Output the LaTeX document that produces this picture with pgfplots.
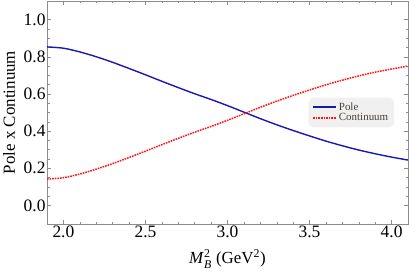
\documentclass[border=0pt]{standalone}
\usepackage{fontspec}
\setmainfont{Liberation Serif}
\usepackage{amsmath}
\usepackage{pgfplots}
\pgfplotsset{compat=1.18}
\definecolor{poleblue}{RGB}{25,25,175}
\definecolor{contred}{RGB}{255,20,20}
\definecolor{framegray}{RGB}{140,140,140}
\definecolor{legtext}{RGB}{75,65,55}
\begin{document}
\begin{tikzpicture}
\useasboundingbox (-47bp,-49bp) rectangle (362bp,224bp);
\begin{axis}[
  at={(0,0)}, anchor=south west,
  scale only axis, width=361bp, height=223bp,
  xmin=1.9, xmax=4.1, ymin=-0.1, ymax=1.1,
  xtick={2.0,2.5,3.0,3.5,4.0},
  ytick={0,0.2,0.4,0.6,0.8,1.0},
  minor x tick num=4, minor y tick num=3,
  tick align=inside,
  major tick length=4bp, minor tick length=2.5bp,
  axis line style={framegray},
  every tick/.style={framegray},
  tick label style={font=\fontsize{17.5}{19}\selectfont},
  /pgf/number format/assume math mode=true,
  /pgf/number format/.cd, fixed, fixed zerofill, precision=1,
  /pgfplots/.cd,
  xticklabel style={yshift=2bp},
  yticklabel style={xshift=2bp},
  xlabel={\textit{M}$^{\text{2}}_{\textit{B}}$ (GeV$^{\text{2}}$)},
  ylabel={Pole x Continuum},
  label style={font=\fontsize{17}{19}\selectfont},
  xlabel style={at={(axis description cs:0.5,0)}, anchor=center, yshift=-35bp},
  ylabel style={at={(axis description cs:0,0.5)}, anchor=center, yshift=38bp},
  legend style={at={(0.843,0.5)}, anchor=center, fill=black!6, draw=none,
    rounded corners=6bp, font=\fontsize{11}{12.5}\selectfont, text=legtext,
    row sep=-2bp, inner xsep=4bp, inner ysep=3bp},
  legend cell align=left,
  legend image code/.code={\draw[#1] (0bp,0bp) -- (23bp,0bp);},
]
\addplot[poleblue, line width=1.4bp, smooth] coordinates {
(1.9,0.853) (2.0,0.846) (2.1,0.826) (2.2,0.800) (2.3,0.770) (2.4,0.737)
(2.5,0.703) (2.6,0.668) (2.7,0.634) (2.8,0.601) (2.9,0.570) (3.0,0.537)
(3.1,0.502) (3.2,0.467) (3.3,0.434) (3.4,0.403) (3.5,0.374) (3.6,0.346)
(3.7,0.321) (3.8,0.298) (3.9,0.278) (4.0,0.260) (4.1,0.244)};
\addlegendentry{Pole}
\addplot[contred, line width=1.5bp, dash pattern=on 1.6bp off 1bp, smooth] coordinates {
(1.9,0.142) (2.0,0.149) (2.1,0.169) (2.2,0.195) (2.3,0.225) (2.4,0.258)
(2.5,0.292) (2.6,0.327) (2.7,0.361) (2.8,0.394) (2.9,0.425) (3.0,0.458)
(3.1,0.493) (3.2,0.528) (3.3,0.561) (3.4,0.592) (3.5,0.621) (3.6,0.649)
(3.7,0.674) (3.8,0.697) (3.9,0.717) (4.0,0.734) (4.1,0.750)};
\addlegendentry{Continuum}
\end{axis}
\end{tikzpicture}
\end{document}
